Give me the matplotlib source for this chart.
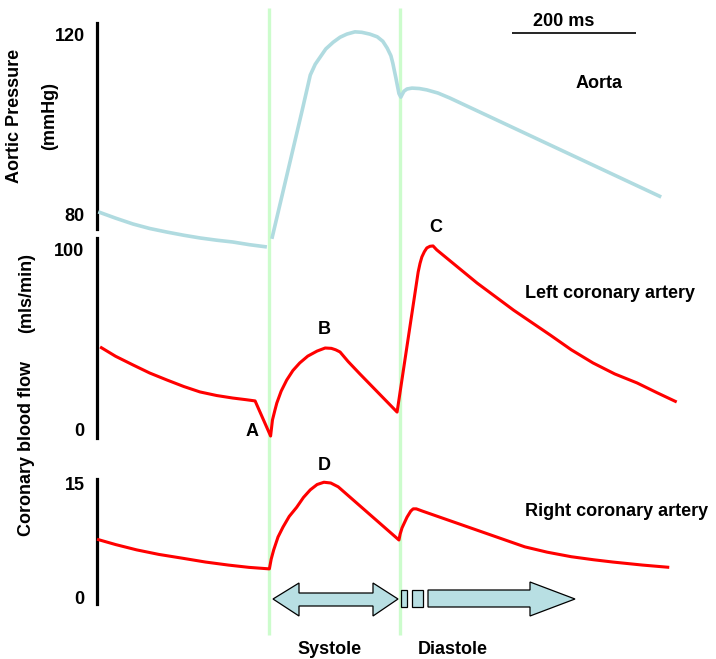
import numpy as np
import matplotlib
matplotlib.use("Agg")
import matplotlib.pyplot as plt
from matplotlib.patches import Polygon, Rectangle
from matplotlib.transforms import blended_transform_factory

plt.rcParams['font.family'] = ['Liberation Sans', 'DejaVu Sans']
plt.rcParams['font.weight'] = 'bold'

# ---------------- data (time in ms, values in panel units) ----------------
# Aortic pressure (mmHg); NaN separates the end of diastole from systole onset
aorta_t = [2, 30, 58, 85, 113, 140, 166, 193, 219, 246, 274, np.nan,
           282, 331, 344, 352, 360, 369, 381, 392, 403, 416, 427, 440, 452, 461,
           468, 474, 477, 482, 487, 490, 495, 500, 508, 520, 532, 550, 569, 910]
aorta_v = [80.7, 79.3, 78.0, 77.0, 76.2, 75.5, 74.9, 74.4, 74.0, 73.4, 72.9, np.nan,
           74.7, 103.3, 111.1, 113.5, 115.1, 116.9, 118.4, 119.5, 120.2, 120.7, 120.6,
           120.2, 119.6, 118.6, 117.1, 115.4, 113.8, 110.5, 107.0, 106.2, 107.5,
           108.0, 108.2, 108.1, 107.8, 107.1, 106.0, 84.0]

# Left coronary artery flow (mls/min)
lca_t = [5, 30, 58, 85, 113, 140, 166, 193, 219, 240, 255, 280, 283, 287, 290, 297,
         306, 316, 327, 340, 355, 368, 378, 385, 392, 405, 424, 484, 518, 521, 524,
         528, 532, 537, 542, 548, 613, 672, 731, 765, 800, 835, 871, 903, 935]
lca_v = [45.6, 40.4, 35.6, 31.1, 27.2, 23.6, 20.6, 18.6, 17.2, 16.3, 15.6, -3.9, 5.0,
         10.5, 14.4, 21.0, 27.2, 32.5, 36.7, 40.5, 43.3, 45.0, 44.8, 44.0, 42.8, 37.5,
         30.6, 9.4, 87.2, 92.0, 95.6, 98.5, 100.6, 101.5, 101.7, 99.5, 81.1, 66.0,
         52.2, 44.0, 36.7, 30.6, 25.6, 20.2, 15.0]

# Right coronary artery flow (mls/min)
rca_t = [0, 30, 64, 100, 138, 175, 212, 245, 278, 281, 285, 292, 300, 310, 322, 333,
         344, 355, 366, 377, 389, 487, 489, 492, 500, 506, 510, 515, 525, 690, 726,
         765, 801, 832, 880, 923]
rca_v = [7.6, 6.9, 6.2, 5.6, 5.1, 4.6, 4.2, 3.9, 3.7, 5.0, 6.2, 7.9, 9.2, 10.6, 11.8,
         13.1, 14.1, 14.8, 15.1, 15.0, 14.5, 7.5, 8.3, 9.1, 10.5, 11.3, 11.6, 11.6,
         11.3, 6.6, 5.9, 5.3, 4.9, 4.6, 4.2, 3.9]

aorta_ticks = [80, 120]
lca_ticks = [0, 100]
rca_ticks = [0, 15]

systole_start = 277
diastole_start = 489
scale_bar_ms = 200

point_labels = ["A", "B", "C", "D"]

# ---------------- layout helpers ----------------
W, H = 716, 659
PX_PER_MS = 0.62
X0 = 97
xlim = ((0 - X0) / PX_PER_MS, (W - X0) / PX_PER_MS)


def fx(px):
    return px / W


def fy(py):
    return 1 - py / H


fig = plt.figure(figsize=(W / 100, H / 100), dpi=100)

RED = '#ff0000'
BLUE = '#b0dbe0'
GREEN = '#ccfccc'
FS = 13


def make_axes(ylim, ticks, bounds):
    ax = fig.add_axes([0, 0, 1, 1])
    ax.set_xlim(*xlim)
    ax.set_ylim(*ylim)
    ax.patch.set_visible(False)
    for s in ['top', 'right', 'bottom']:
        ax.spines[s].set_visible(False)
    ax.spines['left'].set_position(('data', 0))
    ax.spines['left'].set_bounds(*bounds)
    ax.spines['left'].set_linewidth(2.3)
    ax.set_xticks([])
    ax.set_yticks(ticks)
    ax.set_yticklabels([str(t) for t in ticks], fontsize=FS, fontweight='bold')
    ax.tick_params(axis='y', length=0, pad=9)
    return ax

# panel 1: value = 120 - (ypx-35)/4.5
ax1 = make_axes((120 - (H - 35) / 4.5, 120 + 35 / 4.5), aorta_ticks,
                (120 - (229 - 35) / 4.5, 120 - (23 - 35) / 4.5))
# panel 2: value = (429 - ypx)/1.8
ax2 = make_axes(((429 - H) / 1.8, 429 / 1.8), lca_ticks,
                ((429 - 438) / 1.8, (429 - 238) / 1.8))
# panel 3: value = (597 - ypx)/7.6
ax3 = make_axes(((597 - H) / 7.6, 597 / 7.6), rca_ticks,
                ((597 - 604) / 7.6, (597 - 479) / 7.6))

# vertical phase lines
tr1 = blended_transform_factory(ax1.transData, ax1.transAxes)
for t in (systole_start, diastole_start):
    ax1.plot([t, t], [fy(635), fy(8)], color=GREEN, lw=2.4, transform=tr1,
             zorder=1, solid_capstyle='butt')

ax1.plot(aorta_t, aorta_v, color=BLUE, lw=2.6, zorder=3,
         solid_joinstyle='round', solid_capstyle='butt')
ax2.plot(lca_t, lca_v, color=RED, lw=2.2, zorder=3, solid_joinstyle='round',
         solid_capstyle='butt')
ax3.plot(rca_t, rca_v, color=RED, lw=2.2, zorder=3, solid_joinstyle='round',
         solid_capstyle='butt')

# scale bar
sb_start = (512 - X0) / PX_PER_MS
ax1.plot([sb_start, sb_start + scale_bar_ms], [fy(33), fy(33)], color='black',
         lw=1.2, transform=tr1, solid_capstyle='butt')
fig.text(fx(564), fy(21), f"{scale_bar_ms} ms", ha='center', va='center',
         fontsize=FS, fontweight='bold')

# phase arrows
tr3 = blended_transform_factory(ax3.transData, ax3.transAxes)
ARROW = '#b8dfe3'


def t_of(px):
    return (px - X0) / PX_PER_MS

yc = 599
bt, bb = 593, 606
ht, hb = 583, 616
sys_pts = [(t_of(273), fy(yc)), (t_of(299), fy(ht)), (t_of(299), fy(bt)),
           (t_of(373), fy(bt)), (t_of(373), fy(ht)), (t_of(398), fy(yc)),
           (t_of(373), fy(hb)), (t_of(373), fy(bb)), (t_of(299), fy(bb)),
           (t_of(299), fy(hb))]
ax3.add_patch(Polygon(sys_pts, closed=True, facecolor=ARROW, edgecolor='black',
                      lw=0.9, transform=tr3))
for a, b in ((401, 407), (412, 423)):
    ax3.add_patch(Rectangle((t_of(a), fy(607)), t_of(b) - t_of(a), fy(590) - fy(607),
                            facecolor=ARROW, edgecolor='black', lw=0.9, transform=tr3))
dia_pts = [(t_of(428), fy(590)), (t_of(530), fy(590)), (t_of(530), fy(582)),
           (t_of(575), fy(yc)), (t_of(530), fy(616)), (t_of(530), fy(607)),
           (t_of(428), fy(607))]
ax3.add_patch(Polygon(dia_pts, closed=True, facecolor=ARROW, edgecolor='black',
                      lw=0.9, transform=tr3))

# texts
fig.text(fx(330), fy(649), "Systole", ha='center', va='center', fontsize=FS)
fig.text(fx(453), fy(649), "Diastole", ha='center', va='center', fontsize=FS)
fig.text(fx(599), fy(83), "Aorta", ha='center', va='center', fontsize=FS)
fig.text(fx(610), fy(294), "Left coronary artery", ha='center', va='center', fontsize=FS)
fig.text(fx(617), fy(512), "Right coronary artery", ha='center', va='center', fontsize=FS)

fig.text(fx(15), fy(116), "Aortic Pressure", rotation=90, ha='center', va='center', fontsize=FS)
fig.text(fx(50), fy(116), "(mmHg)", rotation=90, ha='center', va='center', fontsize=FS)
fig.text(fx(27), fy(448), "Coronary blood flow", rotation=90, ha='center', va='center', fontsize=FS)
fig.text(fx(27), fy(293), "(mls/min)", rotation=90, ha='center', va='center', fontsize=FS)

for lab, (px, py) in zip(point_labels, [(252, 432), (324, 330), (436, 227), (324, 466)]):
    fig.text(fx(px), fy(py), lab, ha='center', va='center', fontsize=FS)

fig.savefig("out.png", dpi=100)
